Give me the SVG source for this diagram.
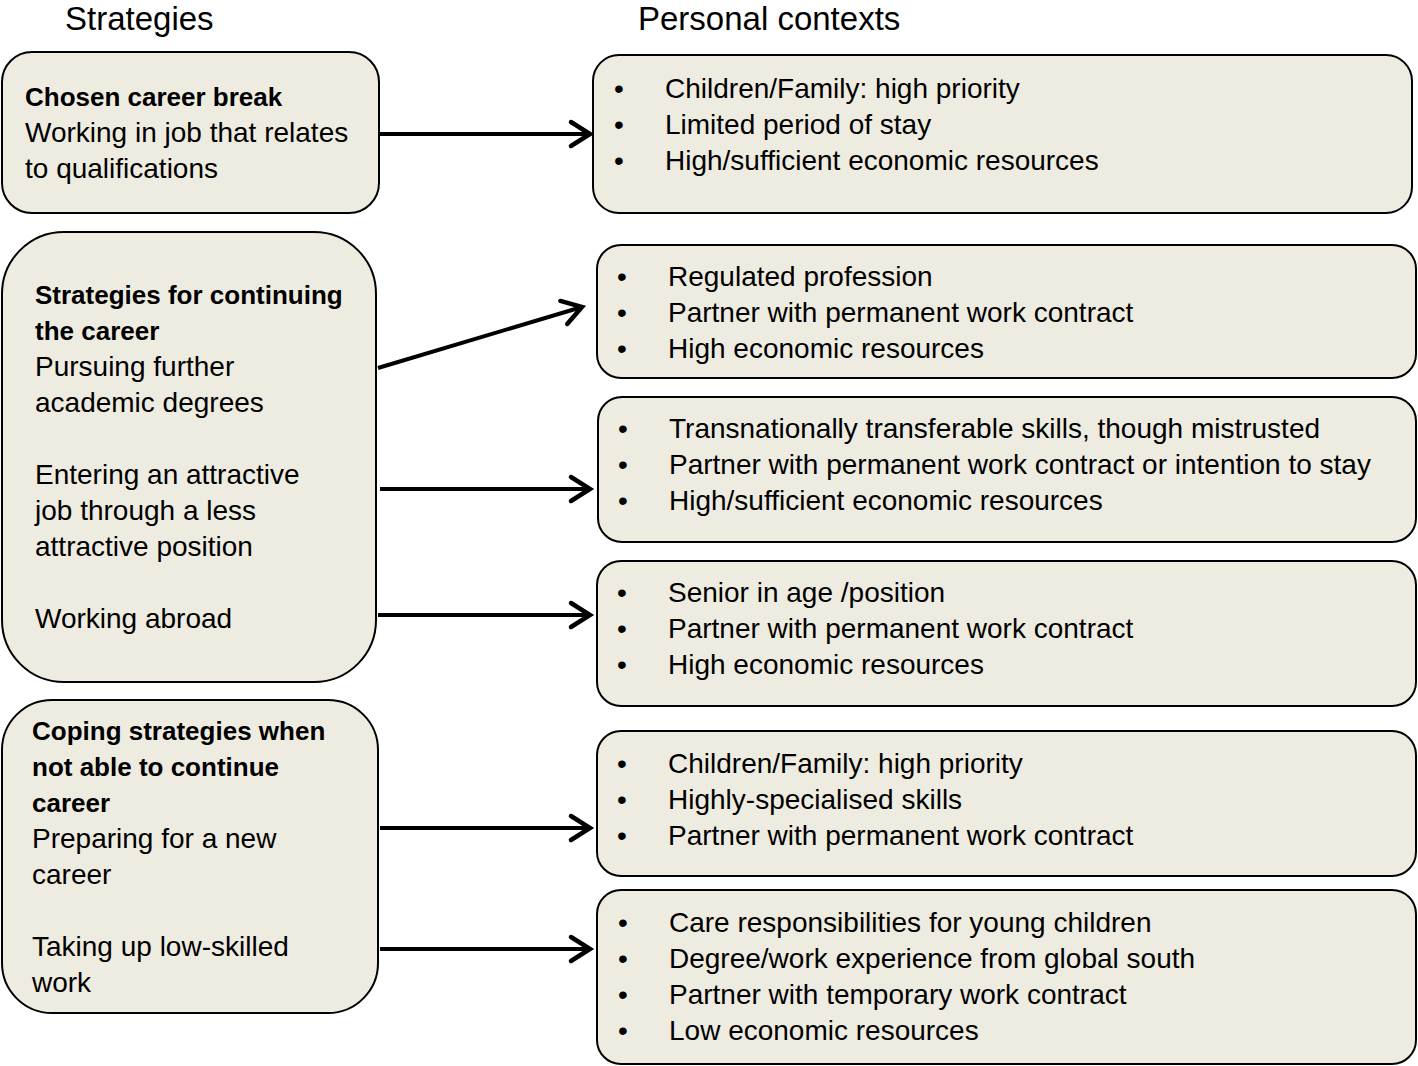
<svg xmlns="http://www.w3.org/2000/svg" width="1418" height="1066" viewBox="0 0 1418 1066">
<defs>
<style>
.box{fill:#EEECE1;stroke:#000;stroke-width:2}
text{font-family:"Liberation Sans",Arial,sans-serif;font-size:28px;fill:#000}
.b{font-weight:bold;font-size:26px}
.h{font-size:33px}
.c{fill:none;stroke:#000;stroke-width:4}
</style>
<marker id="ah" viewBox="0 0 26 30" refX="22" refY="15" markerWidth="26" markerHeight="30" markerUnits="userSpaceOnUse" orient="auto" overflow="visible">
<path d="M3,3 L22,15 L3,27" fill="none" stroke="#000" stroke-width="4.5" stroke-linejoin="miter" stroke-linecap="round"/>
</marker>
</defs>
<rect width="1418" height="1066" fill="#fff"/>
<text class="h" x="65" y="30">Strategies</text>
<text class="h" x="638" y="30">Personal contexts</text>

<g id="s1">
<rect class="box" x="2" y="52" width="377" height="161" rx="30"/>
<text x="25" y="106" class="b">Chosen career break</text>
<text x="25" y="142">Working in job that relates</text>
<text x="25" y="178">to qualifications</text>
</g>
<g id="s2">
<rect class="box" x="2" y="232" width="374" height="450" rx="62"/>
<text x="35" y="304" class="b">Strategies for continuing</text>
<text x="35" y="340" class="b">the career</text>
<text x="35" y="376">Pursuing further</text>
<text x="35" y="412">academic degrees</text>
<text x="35" y="484">Entering an attractive</text>
<text x="35" y="520">job through a less</text>
<text x="35" y="556">attractive position</text>
<text x="35" y="628">Working abroad</text>
</g>
<g id="s3">
<rect class="box" x="2" y="700" width="376" height="313" rx="50"/>
<text x="32" y="740" class="b">Coping strategies when</text>
<text x="32" y="776" class="b">not able to continue</text>
<text x="32" y="812" class="b">career</text>
<text x="32" y="848">Preparing for a new</text>
<text x="32" y="884">career</text>
<text x="32" y="956">Taking up low-skilled</text>
<text x="32" y="992">work</text>
</g>

<g id="p1">
<rect class="box" x="593" y="55" width="819" height="158" rx="26"/>
<text x="614" y="98">•</text><text x="665" y="98">Children/Family: high priority</text>
<text x="614" y="134">•</text><text x="665" y="134">Limited period of stay</text>
<text x="614" y="170">•</text><text x="665" y="170">High/sufficient economic resources</text>
</g>
<g id="p2">
<rect class="box" x="597" y="245" width="819" height="133" rx="24"/>
<text x="617" y="286">•</text><text x="668" y="286">Regulated profession</text>
<text x="617" y="322">•</text><text x="668" y="322">Partner with permanent work contract</text>
<text x="617" y="358">•</text><text x="668" y="358">High economic resources</text>
</g>
<g id="p3">
<rect class="box" x="598" y="397" width="818" height="145" rx="24"/>
<text x="618" y="438">•</text><text x="669" y="438">Transnationally transferable skills, though mistrusted</text>
<text x="618" y="474">•</text><text x="669" y="474">Partner with permanent work contract or intention to stay</text>
<text x="618" y="510">•</text><text x="669" y="510">High/sufficient economic resources</text>
</g>
<g id="p4">
<rect class="box" x="597" y="561" width="819" height="145" rx="24"/>
<text x="617" y="602">•</text><text x="668" y="602">Senior in age /position</text>
<text x="617" y="638">•</text><text x="668" y="638">Partner with permanent work contract</text>
<text x="617" y="674">•</text><text x="668" y="674">High economic resources</text>
</g>
<g id="p5">
<rect class="box" x="597" y="731" width="819" height="145" rx="24"/>
<text x="617" y="773">•</text><text x="668" y="773">Children/Family: high priority</text>
<text x="617" y="809">•</text><text x="668" y="809">Highly-specialised skills</text>
<text x="617" y="845">•</text><text x="668" y="845">Partner with permanent work contract</text>
</g>
<g id="p6">
<rect class="box" x="597" y="890" width="819" height="174" rx="24"/>
<text x="618" y="932">•</text><text x="669" y="932">Care responsibilities for young children</text>
<text x="618" y="968">•</text><text x="669" y="968">Degree/work experience from global south</text>
<text x="618" y="1004">•</text><text x="669" y="1004">Partner with temporary work contract</text>
<text x="618" y="1040">•</text><text x="669" y="1040">Low economic resources</text>
</g>

<g id="connectors">
<line class="c" x1="380" y1="134" x2="590" y2="134" marker-end="url(#ah)"/>
<line class="c" x1="378" y1="368" x2="582" y2="307" marker-end="url(#ah)"/>
<line class="c" x1="380" y1="489" x2="590" y2="489" marker-end="url(#ah)"/>
<line class="c" x1="378" y1="615" x2="590" y2="615" marker-end="url(#ah)"/>
<line class="c" x1="380" y1="828" x2="590" y2="828" marker-end="url(#ah)"/>
<line class="c" x1="380" y1="949" x2="590" y2="949" marker-end="url(#ah)"/>
</g>
</svg>
